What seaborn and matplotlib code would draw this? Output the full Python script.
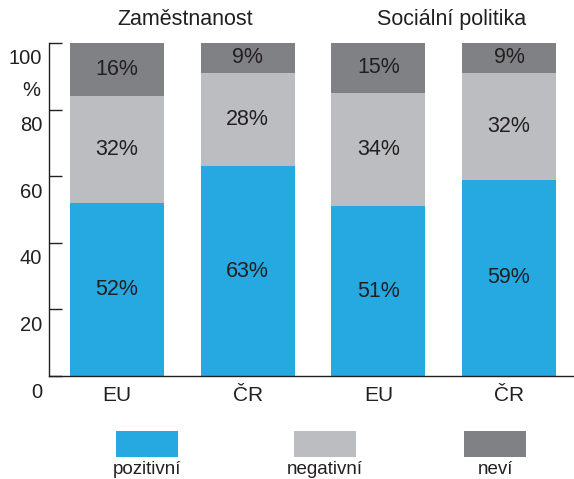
import matplotlib
matplotlib.use("Agg")
import matplotlib.pyplot as plt
import matplotlib.transforms as mtransforms
from matplotlib.patches import Rectangle
import numpy as np
import pandas as pd
import seaborn as sns

# data
groups = ["Zaměstnanost", "Sociální politika"]
regions = ["EU", "ČR", "EU", "ČR"]
pozitivni = [52, 63, 51, 59]
negativni = [32, 28, 34, 32]
nevi = [16, 9, 15, 9]
series_names = ["pozitivní", "negativní", "neví"]
colors = ["#25A9E0", "#BCBDC0", "#808184"]
yticks = [0, 20, 40, 60, 80, 100]

TEXT = "#231F20"

sns.set_style("ticks")
plt.rcParams["font.family"] = ["Liberation Sans", "DejaVu Sans"]
plt.rcParams["text.color"] = TEXT

keys = [f"{g} {r}" for g, r in zip([groups[0]] * 2 + [groups[1]] * 2, regions)]
df = pd.DataFrame({"key": keys, "poz": pozitivni, "neg": negativni, "nev": nevi})
df["c1"] = df["poz"]
df["c2"] = df["poz"] + df["neg"]
df["c3"] = df["c2"] + df["nev"]

fig = plt.figure(figsize=(5.74, 4.79), dpi=100)
ax = fig.add_axes([49 / 574, 103 / 479, 525 / 574, 333 / 479])

# stacked bars drawn as overlapping cumulative layers
for col, c in zip(["c3", "c2", "c1"], colors[::-1]):
    sns.barplot(data=df, x="key", y=col, color=c, saturation=1, width=0.72,
                linewidth=0, ax=ax, order=keys)

# segment labels
for i in range(len(keys)):
    bottoms = [0, df["c1"][i], df["c2"][i]]
    vals = [df["poz"][i], df["neg"][i], df["nev"][i]]
    for b, v in zip(bottoms, vals):
        ax.text(i, b + v / 2, f"{v}%", ha="center", va="center",
                fontsize=15.5, color=TEXT)

ax.set_xlim(-0.52, 3.497)
ax.set_ylim(0, 100)
ax.set_yticks(yticks)
ax.set_yticklabels([str(t) for t in yticks])
ax.set_xticks(range(len(keys)))
ax.set_xticklabels(regions)
ax.set_xlabel("")
ax.set_ylabel("")

sns.despine(ax=ax, top=True, right=True)
for s in ["left", "bottom"]:
    ax.spines[s].set_color(TEXT)
    ax.spines[s].set_linewidth(1.0)

ax.tick_params(axis="y", direction="in", length=9.5, width=1, color=TEXT,
               labelsize=14.5, labelcolor=TEXT, pad=5)
ax.tick_params(axis="x", length=0, labelsize=15, labelcolor=TEXT, pad=7)

# y labels sit a bit below their ticks in the original
offset = mtransforms.ScaledTranslation(0, -14 / 100, fig.dpi_scale_trans)
for lab in ax.get_yticklabels():
    lab.set_transform(lab.get_transform() + offset)

fig.text(40 / 574, 1 - 90 / 479, "%", ha="right", va="center", fontsize=14.5)

# group titles
ax.text(0.52, 1.07, groups[0], transform=ax.get_xaxis_transform(),
        ha="center", va="center", fontsize=15.5)
ax.text(2.56, 1.07, groups[1], transform=ax.get_xaxis_transform(),
        ha="center", va="center", fontsize=15.5)

# legend: swatch with label below
legend_x = [116, 294, 464]
for x, name, c in zip(legend_x, series_names, colors):
    fig.add_artist(Rectangle((x / 574, 1 - 457 / 479), 62 / 574, 26 / 479,
                             transform=fig.transFigure, color=c, lw=0))
    fig.text((x + 31) / 574, 1 - 474.5 / 479, name, ha="center",
             va="baseline", fontsize=13.5)

fig.savefig("out.png", dpi=100)
